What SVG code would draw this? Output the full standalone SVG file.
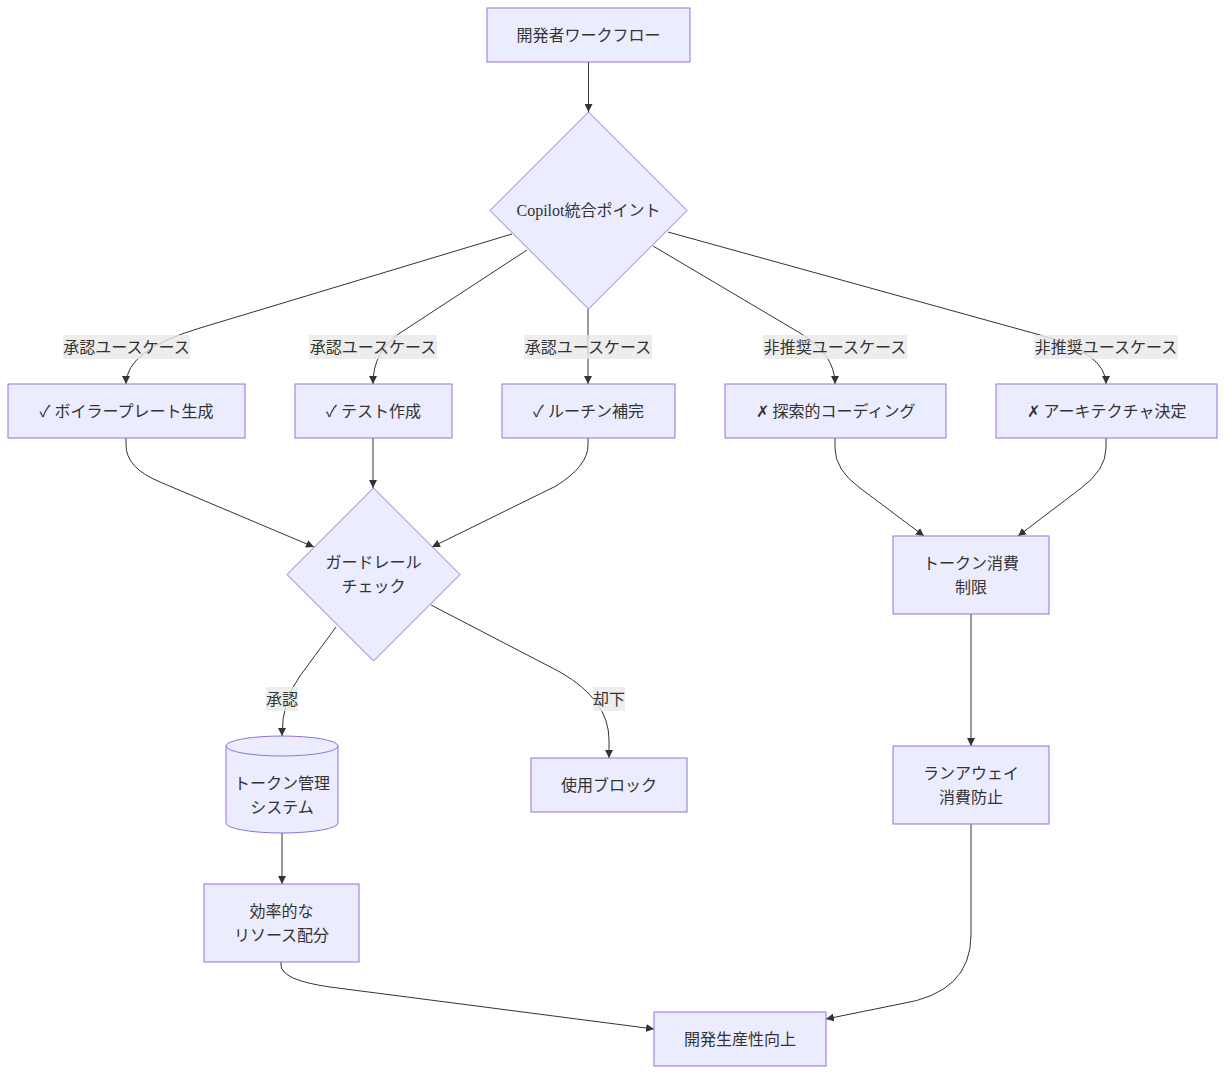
<svg xmlns="http://www.w3.org/2000/svg" width="1225" height="1074" viewBox="0 0 1225 1074">
<style>
.node rect,.node polygon,.node path{fill:#ECECFF;stroke:#9370DB;stroke-width:1px}
.node text,.lbl text{font-family:"Liberation Serif","Noto Sans CJK JP",serif;font-size:16px;fill:#333;text-anchor:middle;dominant-baseline:central}
.edges path{fill:none;stroke:#333;stroke-width:1px}
.lbl rect{fill:#e8e8e8;fill-opacity:0.8}
</style>
<defs>
<marker id="arr" viewBox="0 0 10 10" refX="10" refY="5" markerWidth="8" markerHeight="8" markerUnits="userSpaceOnUse" orient="auto">
<path d="M0,0 L10,5 L0,10 z" fill="#333"/>
</marker>
</defs>
<rect width="1225" height="1074" fill="#fff"/>
<g class="edges">
<path d="M588.5,62 L588.5,112" marker-end="url(#arr)"/>
<path d="M512,234 L200,328 Q126,350 126,384" marker-end="url(#arr)"/>
<path d="M527,250 L400,333 Q373,351 373,384" marker-end="url(#arr)"/>
<path d="M588,309 L588,384" marker-end="url(#arr)"/>
<path d="M653,246 L800,333 Q835,354 835,384" marker-end="url(#arr)"/>
<path d="M668,232 L1040,335 Q1106,353 1106,384" marker-end="url(#arr)"/>
<path d="M126,438 L126,445 Q126,468 160,482 L314,547" marker-end="url(#arr)"/>
<path d="M373,438 L373,488" marker-end="url(#arr)"/>
<path d="M588,438 L588,445 Q588,466 556,486 L432,547" marker-end="url(#arr)"/>
<path d="M835,438 L835,448 Q835,470 860,488 L924,536" marker-end="url(#arr)"/>
<path d="M1106,438 L1106,448 Q1106,470 1080,489 L1018,536" marker-end="url(#arr)"/>
<path d="M971,614 L971,746" marker-end="url(#arr)"/>
<path d="M971,824 L971,935 Q971,993 900,1004 L826,1019" marker-end="url(#arr)"/>
<path d="M336,627 L300,676 Q282,700 282,736" marker-end="url(#arr)"/>
<path d="M431,605 L560,672 Q609,700 609,740 L609,758" marker-end="url(#arr)"/>
<path d="M282,833 L282,884" marker-end="url(#arr)"/>
<path d="M281,962 L281,965 Q281,980 330,987 L654,1029" marker-end="url(#arr)"/>
</g>
<g class="lbl">
<rect x="63" y="335" width="127" height="24"/><text x="126.5" y="347">承認ユースケース</text>
<rect x="309" y="335" width="128" height="24"/><text x="373" y="347">承認ユースケース</text>
<rect x="524" y="335" width="128" height="24"/><text x="588" y="347">承認ユースケース</text>
<rect x="763" y="335" width="144" height="24"/><text x="835" y="347">非推奨ユースケース</text>
<rect x="1034" y="335" width="144" height="24"/><text x="1106" y="347">非推奨ユースケース</text>
<rect x="266" y="687" width="32" height="24"/><text x="282" y="699">承認</text>
<rect x="593" y="687" width="32" height="24"/><text x="609" y="699">却下</text>
</g>
<g id="n-workflow" class="node"><rect x="487" y="8" width="203" height="54"/><text x="588.5" y="35">開発者ワークフロー</text></g>
<g id="n-copilot" class="node"><polygon points="588.5,112 687,210.5 588.5,309 490,210.5"/><text x="588.5" y="210.5">Copilot統合ポイント</text></g>
<g id="n-boiler" class="node"><rect x="8" y="384" width="237" height="54"/><text x="126.5" y="411">✓ ボイラープレート生成</text></g>
<g id="n-test" class="node"><rect x="295" y="384" width="157" height="54"/><text x="373.5" y="411">✓ テスト作成</text></g>
<g id="n-routine" class="node"><rect x="502" y="384" width="173" height="54"/><text x="588.5" y="411">✓ ルーチン補完</text></g>
<g id="n-explore" class="node"><rect x="725" y="384" width="221" height="54"/><text x="835.5" y="411">✗ 探索的コーディング</text></g>
<g id="n-arch" class="node"><rect x="996" y="384" width="221" height="54"/><text x="1106.5" y="411">✗ アーキテクチャ決定</text></g>
<g id="n-guard" class="node"><polygon points="373.5,488 460,574.5 373.5,661 287,574.5"/><text x="373.5" y="562">ガードレール</text><text x="373.5" y="586">チェック</text></g>
<g id="n-limit" class="node"><rect x="893" y="536" width="156" height="78"/><text x="971" y="563">トークン消費</text><text x="971" y="587">制限</text></g>
<g id="n-runaway" class="node"><rect x="893" y="746" width="156" height="78"/><text x="971" y="773">ランアウェイ</text><text x="971" y="797">消費防止</text></g>
<g id="n-tokenmgmt" class="node"><path d="M226,746 a56,10 0 0,0 112,0 a56,10 0 0,0 -112,0 l0,77 a56,10 0 0,0 112,0 l0,-77"/><text x="282" y="783">トークン管理</text><text x="282" y="807">システム</text></g>
<g id="n-block" class="node"><rect x="531" y="758" width="156" height="54"/><text x="609" y="785">使用ブロック</text></g>
<g id="n-efficient" class="node"><rect x="204" y="884" width="155" height="78"/><text x="281.5" y="911">効率的な</text><text x="281.5" y="935">リソース配分</text></g>
<g id="n-productivity" class="node"><rect x="654" y="1012" width="172" height="54"/><text x="740" y="1039">開発生産性向上</text></g>
</svg>
